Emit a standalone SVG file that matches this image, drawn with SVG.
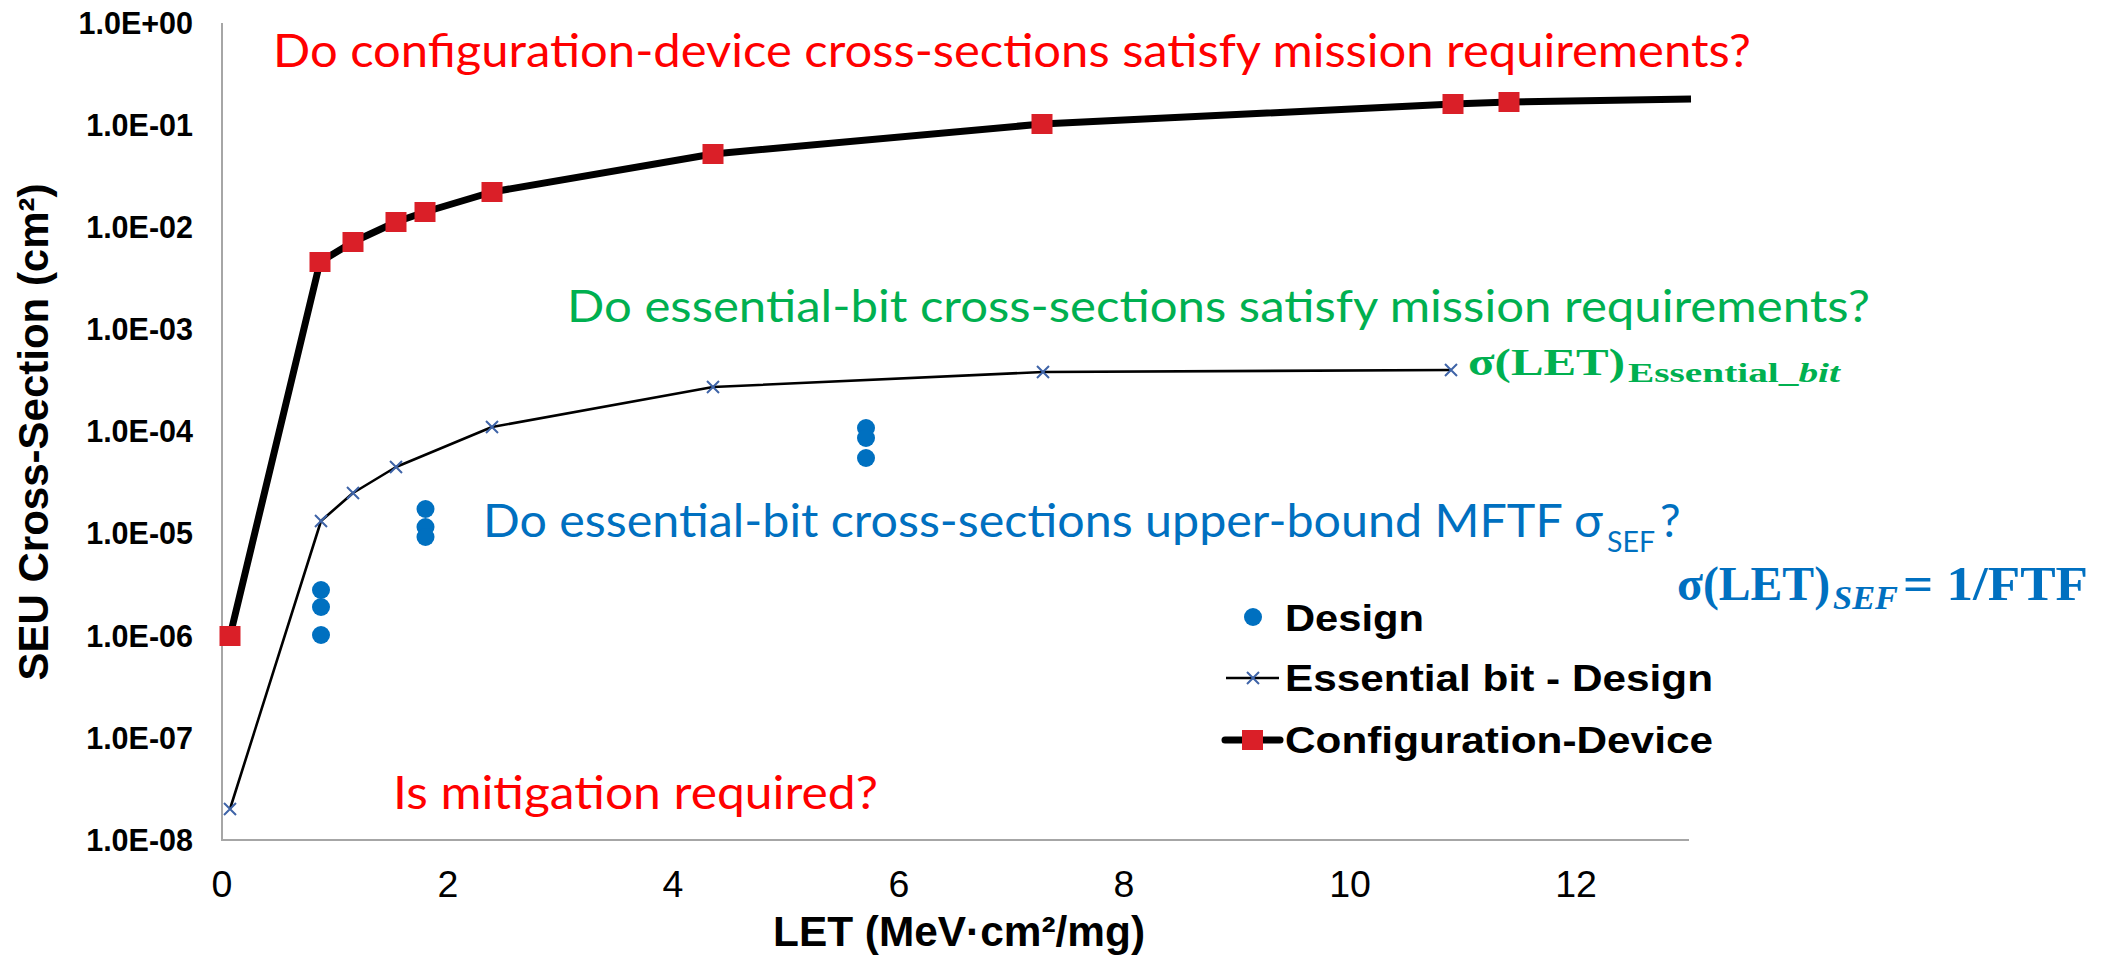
<svg xmlns="http://www.w3.org/2000/svg" width="2101" height="962" viewBox="0 0 2101 962">
  <defs>
    <style>
      .axis { stroke: #A6A6A6; stroke-width: 2; fill: none; }
      .ytick { font-family: "Liberation Sans", Arial, sans-serif; font-weight: bold; font-size: 30.5px; fill: #000; text-anchor: end; }
      .xtick { font-family: "Liberation Sans", Arial, sans-serif; font-size: 37.5px; fill: #000; text-anchor: middle; }
      .title { font-family: "Liberation Sans", Arial, sans-serif; font-weight: bold; font-size: 42px; fill: #000; }
      .legend { font-family: "Liberation Sans", Arial, sans-serif; font-weight: bold; font-size: 37px; fill: #000; }
      .q { font-family: Lato, "Open Sans", sans-serif; }
      .math { font-family: "Liberation Serif", "Times New Roman", serif; font-weight: bold; }
      .config-line { stroke: #000; stroke-width: 7; fill: none; stroke-linejoin: round; stroke-linecap: butt; }
      .ess-line { stroke: #000; stroke-width: 2.6; fill: none; stroke-linejoin: round; }
      .sq { fill: #DA1F28; }
      .dot { fill: #0070C0; }
      .xm { stroke: #3F64A8; stroke-width: 2; fill: none; }
    </style>
    <rect id="sqm" x="-10.5" y="-10" width="21" height="20" class="sq"/>
    <path id="xmk" d="M-6,-6 L6,6 M-6,6 L6,-6" class="xm"/>
    <circle id="dotm" r="9" class="dot"/>
  </defs>

  <rect width="2101" height="962" fill="#FFFFFF"/>

  <!-- axes -->
  <g id="axes">
    <line class="axis" x1="222" y1="23" x2="222" y2="840"/>
    <line class="axis" x1="221" y1="840" x2="1689" y2="840"/>
  </g>

  <!-- y tick labels (log scale, one decade per 102.1 px) -->
  <g id="y-ticks">
    <text class="ytick" x="193" y="34">1.0E+00</text>
    <text class="ytick" x="193" y="136">1.0E-01</text>
    <text class="ytick" x="193" y="238">1.0E-02</text>
    <text class="ytick" x="193" y="340">1.0E-03</text>
    <text class="ytick" x="193" y="442">1.0E-04</text>
    <text class="ytick" x="193" y="544">1.0E-05</text>
    <text class="ytick" x="193" y="647">1.0E-06</text>
    <text class="ytick" x="193" y="749">1.0E-07</text>
    <text class="ytick" x="193" y="851">1.0E-08</text>
  </g>

  <!-- x tick labels (112.8 px per unit) -->
  <g id="x-ticks">
    <text class="xtick" x="222" y="897">0</text>
    <text class="xtick" x="448" y="897">2</text>
    <text class="xtick" x="673" y="897">4</text>
    <text class="xtick" x="899" y="897">6</text>
    <text class="xtick" x="1124" y="897">8</text>
    <text class="xtick" x="1350" y="897">10</text>
    <text class="xtick" x="1576" y="897">12</text>
  </g>

  <!-- axis titles -->
  <g id="axis-titles">
    <text class="title" transform="translate(48,432) rotate(-90)" text-anchor="middle">SEU Cross-Section (cm²)</text>
    <text class="title" x="773" y="946" textLength="372" lengthAdjust="spacingAndGlyphs">LET (MeV·cm²/mg)</text>
  </g>

  <!-- data series -->
  <g id="connectors">
    <polyline id="config-device-line" class="config-line" points="230,636 320,262 353,242 396,222 425,212 492,192 713,154 1042,124 1453,104 1509,102 1691,99"/>
    <polyline id="essential-bit-line" class="ess-line" points="230,809 321,521 353,493 396,467 492,427 713,387 1043,372 1451,370"/>
  </g>

  <g id="design-points">
    <use href="#dotm" x="321" y="590"/>
    <use href="#dotm" x="321" y="607"/>
    <use href="#dotm" x="321" y="635"/>
    <use href="#dotm" x="425.5" y="509"/>
    <use href="#dotm" x="425.5" y="527"/>
    <use href="#dotm" x="425.5" y="537"/>
    <use href="#dotm" x="866" y="428"/>
    <use href="#dotm" x="866" y="438"/>
    <use href="#dotm" x="866" y="458"/>
  </g>

  <g id="essential-bit-points">
    <use href="#xmk" x="230" y="809"/>
    <use href="#xmk" x="321" y="521"/>
    <use href="#xmk" x="353" y="493"/>
    <use href="#xmk" x="396" y="467"/>
    <use href="#xmk" x="492" y="427"/>
    <use href="#xmk" x="713" y="387"/>
    <use href="#xmk" x="1043" y="372"/>
    <use href="#xmk" x="1451" y="370"/>
  </g>

  <g id="config-device-points">
    <use href="#sqm" x="230" y="636"/>
    <use href="#sqm" x="320" y="262"/>
    <use href="#sqm" x="353" y="242"/>
    <use href="#sqm" x="396" y="222"/>
    <use href="#sqm" x="425" y="212"/>
    <use href="#sqm" x="492" y="192"/>
    <use href="#sqm" x="713" y="154"/>
    <use href="#sqm" x="1042" y="124"/>
    <use href="#sqm" x="1453" y="104"/>
    <use href="#sqm" x="1509" y="102"/>
  </g>

  <!-- questions -->
  <g id="q-config">
    <text class="q" x="273" y="67" font-size="46.5" fill="#FF0000" textLength="1478" lengthAdjust="spacingAndGlyphs">Do configuration-device cross-sections satisfy mission requirements?</text>
  </g>
  <g id="q-essential">
    <text class="q" x="567" y="322" font-size="44" fill="#00B050" textLength="1303" lengthAdjust="spacingAndGlyphs">Do essential-bit cross-sections satisfy mission requirements?</text>
  </g>
  <g id="q-upper-bound">
    <text class="q" x="483" y="537" font-size="46" fill="#0070C0" textLength="1120" lengthAdjust="spacingAndGlyphs">Do essential-bit cross-sections upper-bound MFTF σ</text>
    <text class="q" x="1607" y="552" font-size="28" fill="#0070C0" textLength="48" lengthAdjust="spacingAndGlyphs">SEF</text>
    <text class="q" x="1660" y="537" font-size="46" fill="#0070C0">?</text>
  </g>
  <g id="q-mitigation">
    <text class="q" x="393" y="809" font-size="46" fill="#FF0000" textLength="485" lengthAdjust="spacingAndGlyphs">Is mitigation required?</text>
  </g>

  <!-- formulas -->
  <g id="eq-essential" fill="#00B050">
    <text class="math" x="1468" y="375" font-size="37" textLength="157" lengthAdjust="spacingAndGlyphs">σ(LET)</text>
    <text class="math" x="1628" y="382" font-size="27" textLength="212" lengthAdjust="spacingAndGlyphs">Essential_<tspan font-style="italic">bit</tspan></text>
  </g>
  <g id="eq-sef" fill="#0070C0">
    <text class="math" x="1677" y="600" font-size="48" textLength="153" lengthAdjust="spacingAndGlyphs">σ(LET)</text>
    <text class="math" x="1833" y="609" font-size="33" font-style="italic" textLength="65" lengthAdjust="spacingAndGlyphs">SEF</text>
    <text class="math" x="1903" y="600" font-size="48" textLength="185" lengthAdjust="spacingAndGlyphs">= 1/FTF</text>
  </g>

  <!-- legend -->
  <g id="legend">
    <use href="#dotm" x="1253" y="617"/>
    <text class="legend" x="1285" y="631" textLength="139" lengthAdjust="spacingAndGlyphs">Design</text>
    <line x1="1226" y1="678" x2="1279" y2="678" stroke="#000" stroke-width="2.6"/>
    <use href="#xmk" x="1253" y="678"/>
    <text class="legend" x="1285" y="691" textLength="428" lengthAdjust="spacingAndGlyphs">Essential bit - Design</text>
    <line x1="1225" y1="740" x2="1280" y2="740" stroke="#000" stroke-width="7" stroke-linecap="round"/>
    <use href="#sqm" x="1252.5" y="740"/>
    <text class="legend" x="1285" y="753" textLength="428" lengthAdjust="spacingAndGlyphs">Configuration-Device</text>
  </g>
</svg>
